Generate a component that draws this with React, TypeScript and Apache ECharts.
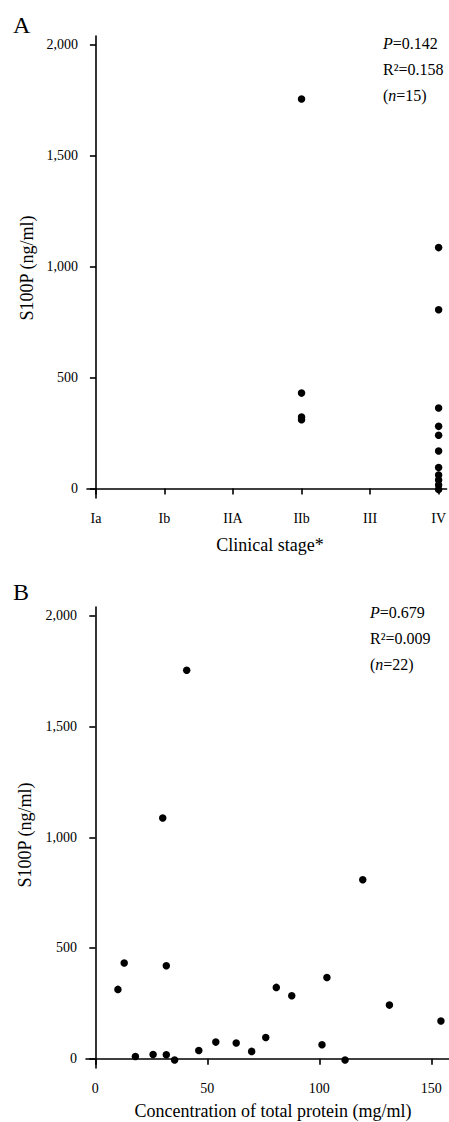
import React, { useEffect, useRef } from "react";
import * as echarts from "echarts";

// Panel A: S100P by clinical stage
const stageLabels = ["Ia", "Ib", "IIA", "IIb", "III", "IV"];
const stageIndexA = [3, 3, 3, 3, 5, 5, 5, 5, 5, 5, 5, 5, 5, 5, 5];
const s100pA = [1756, 430, 322, 310, 1086, 806, 363, 280, 240, 169, 94, 61, 38, 16, -5];

// Panel B: S100P vs total protein
const proteinB = [10.1, 12.9, 17.9, 25.8, 31.7, 31.7, 35.4, 40.8, 30.1, 46.2, 53.8, 62.9, 69.8, 76.1, 80.8, 87.7, 101.2, 103.4, 111.5, 119.4, 131.3, 154.3];
const s100pB = [313, 432, 10, 19, 18, 420, -6, 1754, 1087, 37, 75, 71, 33, 96, 322, 284, 63, 367, -6, 808, 242, 170];

const yTicks = [0, 500, 1000, 1500, 2000];
const xTicksA = [0, 1, 2, 3, 4, 5];
const xTicksB = [0, 50, 100, 150];

const statsA = { p: "0.142", r2: "0.158", n: "15" };
const statsB = { p: "0.679", r2: "0.009", n: "22" };

const FONT = "'Liberation Serif', 'Times New Roman', serif";

export default function App() {
  const ref = useRef<HTMLDivElement>(null);
  useEffect(() => {
    if (!ref.current) return;
    const chart = echarts.init(ref.current, null, { renderer: "svg" });
    const axisLine = { show: true, lineStyle: { color: "#000", width: 1.6 } };
    const yAxisCommon = (gridIndex: number, min: number) => ({
      type: "value",
      gridIndex,
      min,
      max: 2040,
      axisLine,
      splitLine: { show: false },
      axisTick: { show: true, customValues: yTicks, length: 6, lineStyle: { color: "#000", width: 1.6 } },
      axisLabel: {
        customValues: yTicks,
        margin: 9,
        color: "#000",
        fontFamily: FONT,
        fontSize: 14,
        formatter: (v: number) => v.toLocaleString("en-US"),
      },
    });
    const annot = (x: number, y: number, s: { p: string; r2: string; n: string }) => [
      { type: "text", left: x, top: y, style: { text: "{i|P}=" + s.p, font: `16px ${FONT}`, fill: "#000", rich: { i: { fontStyle: "italic", fontFamily: FONT, fontSize: 16 } } } },
      { type: "text", left: x, top: y + 26, style: { text: "R²=" + s.r2, font: `16px ${FONT}`, fill: "#000" } },
      { type: "text", left: x, top: y + 52, style: { text: "({i|n}=" + s.n + ")", font: `16px ${FONT}`, fill: "#000", rich: { i: { fontStyle: "italic", fontFamily: FONT, fontSize: 16 } } } },
    ];
    chart.setOption({
      animation: false,
      backgroundColor: "#fff",
      grid: [
        { left: 87, top: 36, width: 362, height: 462 },
        { left: 86, top: 607, width: 363, height: 461 },
      ],
      xAxis: [
        {
          type: "value",
          gridIndex: 0,
          min: -0.13,
          max: 5.116,
          axisLine,
          splitLine: { show: false },
          axisTick: { show: true, customValues: xTicksA, length: 6, lineStyle: { color: "#000", width: 1.6 } },
          axisLabel: {
            customValues: xTicksA,
            margin: 13,
            color: "#000",
            fontFamily: FONT,
            fontSize: 14,
            formatter: (v: number) => stageLabels[Math.round(v)] ?? "",
          },
        },
        {
          type: "value",
          gridIndex: 1,
          min: -4.15,
          max: 157.9,
          axisLine,
          splitLine: { show: false },
          axisTick: { show: true, customValues: xTicksB, length: 6, lineStyle: { color: "#000", width: 1.6 } },
          axisLabel: {
            customValues: xTicksB,
            margin: 13,
            color: "#000",
            fontFamily: FONT,
            fontSize: 14,
          },
        },
      ],
      yAxis: [yAxisCommon(0, -43), yAxisCommon(1, -42)],
      series: [
        {
          type: "scatter",
          xAxisIndex: 0,
          yAxisIndex: 0,
          symbolSize: 7.5,
          itemStyle: { color: "#000", opacity: 1 },
          data: s100pA.map((v, i) => [stageIndexA[i], v]),
        },
        {
          type: "scatter",
          xAxisIndex: 1,
          yAxisIndex: 1,
          symbolSize: 7.5,
          itemStyle: { color: "#000", opacity: 1 },
          data: s100pB.map((v, i) => [proteinB[i], v]),
        },
      ],
      graphic: [
        { type: "text", left: 13, top: 13, style: { text: "A", font: `24px ${FONT}`, fill: "#000" } },
        { type: "text", left: 13, top: 580, style: { text: "B", font: `24px ${FONT}`, fill: "#000" } },
        {
          type: "text", x: 27, y: 268, rotation: Math.PI / 2,
          style: { text: "S100P (ng/ml)", font: `18px ${FONT}`, fill: "#000", align: "center", verticalAlign: "middle" },
        },
        {
          type: "text", x: 25, y: 835, rotation: Math.PI / 2,
          style: { text: "S100P (ng/ml)", font: `18px ${FONT}`, fill: "#000", align: "center", verticalAlign: "middle" },
        },
        {
          type: "text", x: 270, y: 545,
          style: { text: "Clinical stage*", font: `18px ${FONT}`, fill: "#000", align: "center", verticalAlign: "middle" },
        },
        {
          type: "text", x: 273, y: 1111,
          style: { text: "Concentration of total protein (mg/ml)", font: `18px ${FONT}`, fill: "#000", align: "center", verticalAlign: "middle" },
        },
        ...annot(383, 35, statsA),
        ...annot(370, 604, statsB),
      ],
    });
    return () => chart.dispose();
  }, []);
  return <div ref={ref} style={{ position: "fixed", left: 0, top: 0, width: 449, height: 1122, background: "#fff" }} />;
}
